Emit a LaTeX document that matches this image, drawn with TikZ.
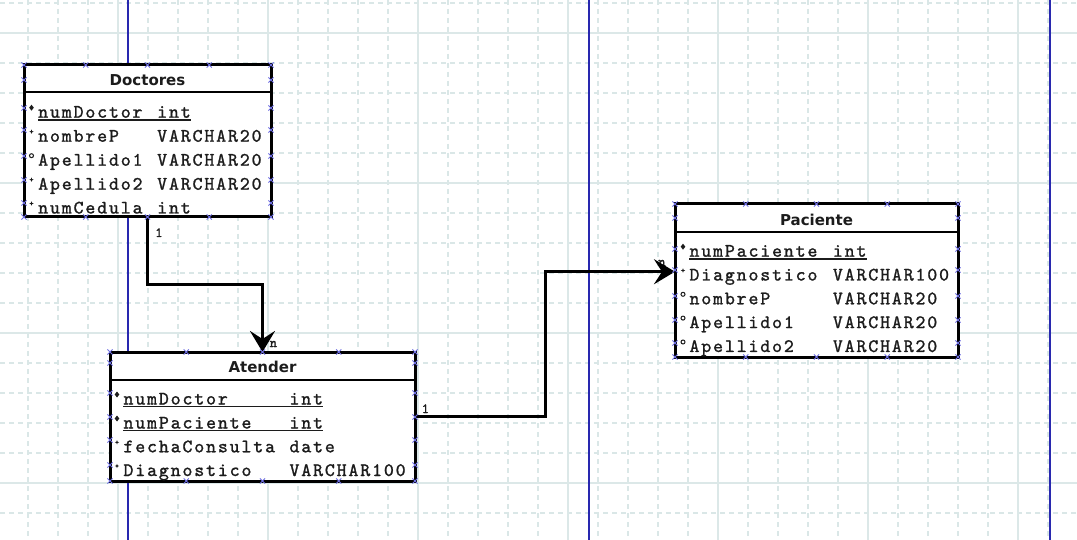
\documentclass[tikz,border=0pt]{standalone}
\usepackage{fontspec}
\usetikzlibrary{arrows.meta}
\newfontfamily\headfont{DejaVu Sans}
\newfontfamily\attrfont{lmmono10-regular.otf}[LetterSpace=9.6, FakeBold=1.2]
\newfontfamily\cardfont{lmmono10-regular.otf}[FakeBold=1.2]
\definecolor{ink}{RGB}{28,28,28}
\definecolor{gridmajor}{RGB}{220,232,232}
\definecolor{gridminor}{RGB}{218,231,231}
\definecolor{pageblue}{RGB}{40,40,175}
\definecolor{handleblue}{RGB}{110,110,225}

% one attribute row: id, marker pic, x marker, x name, x type, baseline, name, type
\newcommand\attrline[8]{%
  \pic at (#3,#6-10) {#2};
  \node[attr] (#1n) at (#4,#6) {#7};
  \node[attr] (#1t) at (#5,#6) {#8};
}
% underline of a key row
\newcommand\keyline[1]{%
  \draw[uline] ([yshift=-2.2pt]#1n.base west) -- ([yshift=-2.2pt]#1t.base east);
}
% selection handles round a table: left, right, top, bottom, side positions
\newcommand\edgehandles[5]{%
  \foreach \q in {0,0.25,0.5,0.75,1}{
    \pic at ({#1+(#2-#1)*\q},#3) {hx};
    \pic at ({#1+(#2-#1)*\q},#4) {hx};
  }
  \foreach \s in {#5}{
    \pic at (#1,\s) {hx};
    \pic at (#2,\s) {hx};
  }
}

\begin{document}
\begin{tikzpicture}[x=1pt,y=-1pt,
  tbl/.style={draw=black, fill=white, line width=3pt, inner sep=0pt, outer sep=0pt, anchor=north west},
  hdr/.style={font=\headfont\bfseries\fontsize{15}{15}\selectfont, text=ink, inner sep=0pt},
  attr/.style={font=\attrfont\fontsize{19}{19}\selectfont, text=ink, inner sep=0pt, anchor=base west},
  card/.style={font=\cardfont\fontsize{14}{14}\selectfont, text=ink, inner sep=0pt, anchor=base west},
  sepline/.style={draw=black, line width=2pt},
  uline/.style={line width=1.3pt, draw=ink},
  conn/.style={draw=black, line width=3pt, -{Stealth[length=21pt,width=25pt,inset=8pt]}},
  pkmark/.pic={\fill[ink] (0,-3) -- (2.3,0) -- (0,3) -- (-2.3,0) -- cycle;},
  nnmark/.pic={\fill[ink] (0,-2.2) -- (0.6,-0.6) -- (2.2,0) -- (0.6,0.6) -- (0,2.2) -- (-0.6,0.6) -- (-2.2,0) -- (-0.6,-0.6) -- cycle;},
  nullmark/.pic={\draw[ink, line width=1pt] (0,0) circle (2);},
  hx/.pic={\draw[handleblue, line width=0.8pt] (-2.6,-2.6) -- (2.6,2.6) (-2.6,2.6) -- (2.6,-2.6);}
]
\useasboundingbox (0,0) rectangle (1077,540);
\fill[white] (0,0) rectangle (1077,540);

% background grid
\begin{scope}
  \clip (0,0) rectangle (1077,540);
  \foreach \x in {-2,28,...,1078}
    \draw[gridminor, line width=1.2pt, dash pattern=on 5pt off 4pt] (\x,0) -- (\x,540);
  \foreach \y in {3,33,...,543}
    \draw[gridminor, line width=1.2pt, dash pattern=on 5pt off 4pt] (0,\y) -- (1077,\y);
  \foreach \x in {-32,118,...,1068}
    \draw[gridmajor, line width=1.3pt] (\x,0) -- (\x,540);
  \foreach \y in {33,183,...,543}
    \draw[gridmajor, line width=1.3pt] (0,\y) -- (1077,\y);
\end{scope}

% page borders
\foreach \x in {128,589,1050}
  \draw[pageblue, line width=1.6pt] (\x,0) -- (\x,540);

% tables
\node[tbl, minimum width=247pt, minimum height=152pt] (doc) at (24,65) {};
\draw[sepline] ([yshift=-27pt]doc.north west) -- ([yshift=-27pt]doc.north east);
\node[hdr] (doch) at (147.5,80) {Doctores};

\node[tbl, minimum width=305pt, minimum height=129pt] (atn) at (110,352) {};
\draw[sepline] ([yshift=-28pt]atn.north west) -- ([yshift=-28pt]atn.north east);
\node[hdr] (atnh) at (262.5,366.5) {Atender};

\node[tbl, minimum width=283pt, minimum height=153pt] (pac) at (675,204) {};
\draw[sepline] ([yshift=-28pt]pac.north west) -- ([yshift=-28pt]pac.north east);
\node[hdr] (pach) at (816.5,219.5) {Paciente};

% Doctores attributes
\attrline{d1}{pkmark}{31.5}{38}{157}{117.7}{numDoctor}{int}
\attrline{d2}{nnmark}{31.5}{38}{157}{141.7}{nombreP}{VARCHAR20}
\attrline{d3}{nullmark}{31.5}{38}{157}{165.7}{Apellido1}{VARCHAR20}
\attrline{d4}{nnmark}{31.5}{38}{157}{189.7}{Apellido2}{VARCHAR20}
\attrline{d5}{nnmark}{31.5}{38}{157}{213.5}{numCedula}{int}
\keyline{d1}

% Atender attributes
\attrline{a1}{pkmark}{117}{123.3}{289.3}{404.5}{numDoctor}{int}
\attrline{a2}{pkmark}{117}{123.3}{289.3}{428.5}{numPaciente}{int}
\attrline{a3}{nnmark}{117}{123.3}{289.3}{452.3}{fechaConsulta}{date}
\attrline{a4}{nnmark}{117}{123.3}{289.3}{476}{Diagnostico}{VARCHAR100}
\keyline{a1}
\keyline{a2}

% Paciente attributes
\attrline{p1}{pkmark}{683}{689.3}{832.7}{256.7}{numPaciente}{int}
\attrline{p2}{nnmark}{683}{689.3}{832.7}{280.5}{Diagnostico}{VARCHAR100}
\attrline{p3}{nullmark}{683}{689.3}{832.7}{304.3}{nombreP}{VARCHAR20}
\attrline{p4}{nullmark}{683}{689.3}{832.7}{328.1}{Apellido1}{VARCHAR20}
\attrline{p5}{nullmark}{683}{689.3}{832.7}{352}{Apellido2}{VARCHAR20}
\keyline{p1}

% relationships
\node[card] (c1) at (155,237) {1};
\node[card] (c2) at (269.5,347) {n};
\node[card] (c3) at (421.5,413) {1};
\node[card] (c4) at (658,266) {n};

\coordinate (bendA) at (147.5,285);
\coordinate (bendB) at (545,271.7);
\coordinate (pacIn) at ([yshift=8.8pt]pac.west);
\draw[conn] (doc.south) -- (bendA) -| (atn.north);
\draw[conn] (atn.east) -| (bendB) -- (pacIn);

% selection handles
\edgehandles{24}{271}{65}{217}{80,108,130,156,180,203}
\edgehandles{110}{415}{352}{481}{363,393,417,440,465}
\edgehandles{675}{958}{204}{357}{218,249,270,296,320,343}
\end{tikzpicture}
\end{document}
